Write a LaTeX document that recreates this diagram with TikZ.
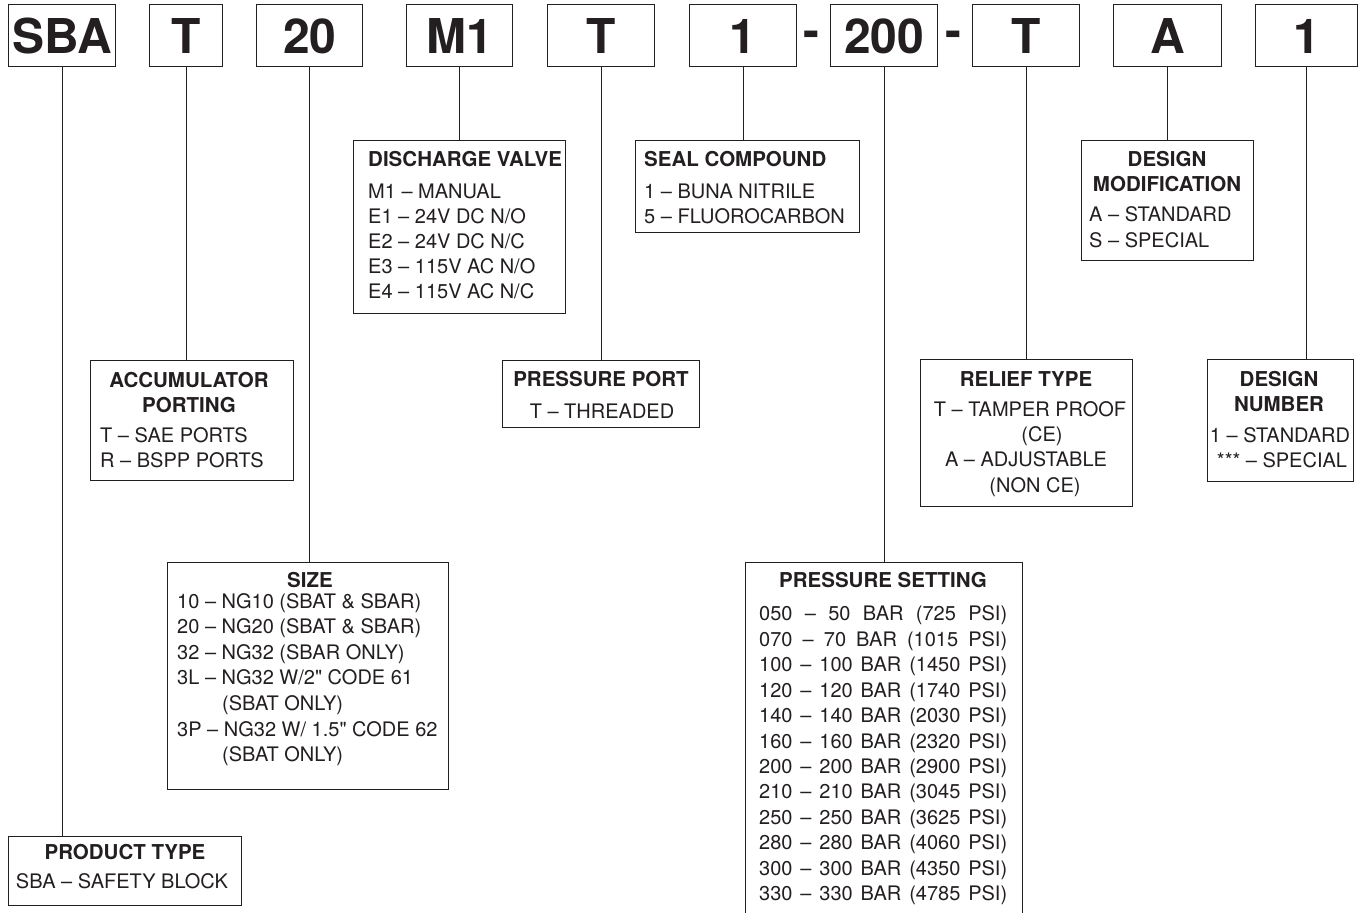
\documentclass[tikz,border=0pt]{standalone}
\usepackage{fontspec}
\setmainfont{TeX Gyre Heros}[Ligatures=TeXOff]
\definecolor{ink}{RGB}{35,31,32}
\newcommand\bodyfnt{\fontsize{20}{24}\selectfont}
\newcommand\headfnt{\bfseries\fontsize{20.5}{24}\selectfont}
\newcommand\codefnt{\bfseries\fontsize{48}{52}\selectfont}
\tikzset{
  cbox/.style={draw=ink, line width=1.4pt, inner sep=0pt, anchor=north west},
  codebox/.style={cbox, minimum height=62pt, font=\codefnt, text=ink,
    text height=35pt, text depth=0pt},
  hdl/.style={font=\headfnt, text=ink, inner sep=0pt, anchor=base west},
  hdc/.style={hdl, anchor=base},
  bdl/.style={font=\bodyfnt, text=ink, inner sep=0pt, anchor=base west},
  bdc/.style={bdl, anchor=base},
  lnk/.style={draw=ink, line width=1.3pt},
  dashsign/.style={font=\codefnt, text=ink, inner sep=0pt, anchor=base}
}
\begin{document}
\begin{tikzpicture}[x=1pt,y=-1pt]
\fill[white] (0,0) rectangle (1366,913);
\useasboundingbox (0,0) rectangle (1366,913);

% ---- code boxes ----
\node[codebox, minimum width=107pt] (sba) at (8,4) {SBA};
\node[codebox, minimum width=73pt]  (t1)  at (149,4) {T};
\node[codebox, minimum width=106pt] (s20) at (256,4) {20};
\node[codebox, minimum width=106pt] (m1)  at (406,4) {M1};
\node[codebox, minimum width=107pt] (t2)  at (547,4) {T};
\node[codebox, minimum width=107pt] (one) at (689,4) {1};
\node[dashsign] (d1) at (811,47) {-};
\node[codebox, minimum width=107pt] (p200) at (830,4) {200};
\node[dashsign] (d2) at (953,47) {-};
\node[codebox, minimum width=107pt] (t3)  at (972,4) {T};
\node[codebox, minimum width=108pt] (a1)  at (1113,4) {A};
\node[codebox, minimum width=102pt] (n1)  at (1255,4) {1};

% ---- description boxes ----
\node[cbox, minimum width=212pt, minimum height=173pt] (dv) at (353,140) {};
\node[cbox, minimum width=224pt, minimum height=92pt]  (sc) at (635,140) {};
\node[cbox, minimum width=172pt, minimum height=120pt] (dm) at (1081,140) {};
\node[cbox, minimum width=203pt, minimum height=120pt] (ap) at (90,360) {};
\node[cbox, minimum width=197pt, minimum height=67pt]  (pp) at (502,360) {};
\node[cbox, minimum width=212pt, minimum height=147pt] (rt) at (920,359) {};
\node[cbox, minimum width=146pt, minimum height=122pt] (dn) at (1207,359) {};
\node[cbox, minimum width=281pt, minimum height=227pt] (sz) at (167,562) {};
\node[cbox, minimum width=277pt, minimum height=400pt] (ps) at (745,562) {};
\node[cbox, minimum width=233pt, minimum height=69pt]  (pt) at (8,836) {};

% ---- connectors ----
\draw[lnk] (sba.south)  -- (sba.south  |- pt.north);
\draw[lnk] (t1.south)   -- (t1.south   |- ap.north);
\draw[lnk] (s20.south)  -- (s20.south  |- sz.north);
\draw[lnk] (m1.south)   -- (m1.south   |- dv.north);
\draw[lnk] (t2.south)   -- (t2.south   |- pp.north);
\draw[lnk] (one.south)  -- (one.south  |- sc.north);
\draw[lnk] (p200.south) -- (p200.south |- ps.north);
\draw[lnk] (t3.south)   -- (t3.south   |- rt.north);
\draw[lnk] (a1.south)   -- (a1.south   |- dm.north);
\draw[lnk] (n1.south)   -- (n1.south   |- dn.north);

% ---- discharge valve ----
\node[hdl] (dvh) at (368,166.7) {DISCHARGE VALVE};
\node[bdl] (dv1) at (368,198.3) {M1 – MANUAL};
\node[bdl] (dv2) at (368,223.3) {E1 – 24V DC N/O};
\node[bdl] (dv3) at (368,248.3) {E2 – 24V DC N/C};
\node[bdl] (dv4) at (368,273.3) {E3 – 115V AC N/O};
\node[bdl] (dv5) at (368,298.3) {E4 – 115V AC N/C};

% ---- seal compound ----
\node[hdl] (sch) at (644,166.7) {SEAL COMPOUND};
\node[bdl] (sc1) at (644,198.3) {1 – BUNA NITRILE};
\node[bdl] (sc2) at (644,223.3) {5 – FLUOROCARBON};

% ---- design modification ----
\node[hdc] (dmh1) at (1167,166) {DESIGN};
\node[hdc] (dmh2) at (1167,191) {MODIFICATION};
\node[bdl] (dm1) at (1089,221.7) {A – STANDARD};
\node[bdl] (dm2) at (1089,247) {S – SPECIAL};

% ---- accumulator porting ----
\node[hdc] (aph1) at (189,387) {ACCUMULATOR};
\node[hdc] (aph2) at (189,412) {PORTING};
\node[bdl] (ap1) at (100,442) {T – SAE PORTS};
\node[bdl] (ap2) at (100,467) {R – BSPP PORTS};

% ---- pressure port ----
\node[hdc] (pph) at (601,386) {PRESSURE PORT};
\node[bdc] (pp1) at (602,418) {T – THREADED};

% ---- relief type ----
\node[hdc] (rth) at (1026,386) {RELIEF TYPE};
\node[bdc] (rt1) at (1030,416) {T – TAMPER PROOF};
\node[bdc] (rt2) at (1042,441.5) {(CE)};
\node[bdc] (rt3) at (1026,466.7) {A – ADJUSTABLE};
\node[bdc] (rt4) at (1035,492) {(NON CE)};

% ---- design number ----
\node[hdc] (dnh1) at (1279,386) {DESIGN};
\node[hdc] (dnh2) at (1279,411) {NUMBER};
\node[bdc] (dn1) at (1280,442.3) {1 – STANDARD};
\node[bdc] (dn2) at (1282,467.3) {*** – SPECIAL};

% ---- size ----
\node[hdc] (szh) at (310,587) {SIZE};
\node[bdl] (sz1) at (177,608)   {10 – NG10 (SBAT \& SBAR)};
\node[bdl] (sz2) at (177,633.6) {20 – NG20 (SBAT \& SBAR)};
\node[bdl] (sz3) at (177,659.2) {32 – NG32 (SBAR ONLY)};
\node[bdl] (sz4) at (177,684.8) {3L – NG32 W/2" CODE 61};
\node[bdl] (sz5) at (222,710.4) {(SBAT ONLY)};
\node[bdl] (sz6) at (177,736)   {3P – NG32 W/ 1.5" CODE 62};
\node[bdl] (sz7) at (222,761.6) {(SBAT ONLY)};

% ---- pressure setting ----
\node[hdc] (psh) at (883,587) {PRESSURE SETTING};
\node[bdl] (ps1)  at (759,620.7) {\makebox[248pt][s]{050 – 50 BAR (725 PSI)}};
\node[bdl] (ps2)  at (759,646.2) {\makebox[248pt][s]{070 – 70 BAR (1015 PSI)}};
\node[bdl] (ps3)  at (759,671.6) {\makebox[248pt][s]{100 – 100 BAR (1450 PSI)}};
\node[bdl] (ps4)  at (759,697.1) {\makebox[248pt][s]{120 – 120 BAR (1740 PSI)}};
\node[bdl] (ps5)  at (759,722.5) {\makebox[248pt][s]{140 – 140 BAR (2030 PSI)}};
\node[bdl] (ps6)  at (759,748.0) {\makebox[248pt][s]{160 – 160 BAR (2320 PSI)}};
\node[bdl] (ps7)  at (759,773.4) {\makebox[248pt][s]{200 – 200 BAR (2900 PSI)}};
\node[bdl] (ps8)  at (759,798.9) {\makebox[248pt][s]{210 – 210 BAR (3045 PSI)}};
\node[bdl] (ps9)  at (759,824.3) {\makebox[248pt][s]{250 – 250 BAR (3625 PSI)}};
\node[bdl] (ps10) at (759,849.8) {\makebox[248pt][s]{280 – 280 BAR (4060 PSI)}};
\node[bdl] (ps11) at (759,875.2) {\makebox[248pt][s]{300 – 300 BAR (4350 PSI)}};
\node[bdl] (ps12) at (759,900.7) {\makebox[248pt][s]{330 – 330 BAR (4785 PSI)}};

% ---- product type ----
\node[hdc] (pth) at (125,859) {PRODUCT TYPE};
\node[bdc] (pt1) at (122,888) {SBA – SAFETY BLOCK};
\end{tikzpicture}
\end{document}
